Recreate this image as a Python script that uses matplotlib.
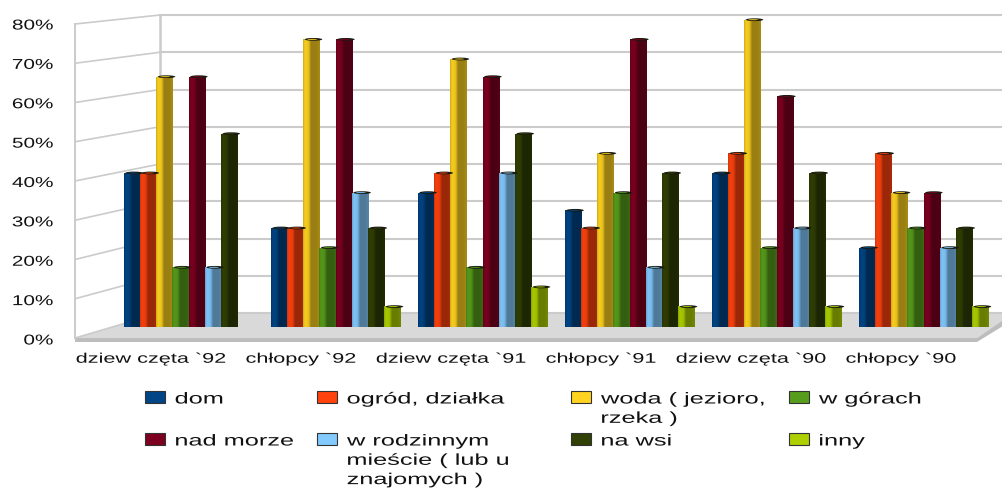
import numpy as np
import matplotlib
matplotlib.use("Agg")
import matplotlib.pyplot as plt
import matplotlib.patheffects as pe
from matplotlib.patches import Ellipse, Polygon, Rectangle
from matplotlib.transforms import Affine2D

# dane (%)
kategorie = ["dziew częta `92", "chłopcy `92", "dziew częta `91",
             "chłopcy `91", "dziew częta `90", "chłopcy `90"]
dom = [41, 27, 36, 31.5, 41, 22]
ogrod = [41, 27, 41, 27, 46, 46]
woda = [65.5, 75, 70, 46, 80, 36]
gory = [17, 22, 17, 36, 22, 27]
morze = [65.5, 75, 65.5, 75, 60.5, 36]
rodzinne = [17, 36, 41, 17, 27, 22]
wies = [51, 27, 51, 41, 41, 27]
inny = [0, 7, 12, 7, 7, 7]

serie = [dom, ogrod, woda, gory, morze, rodzinne, wies, inny]
nazwy = ["dom", "ogród, działka", "woda ( jezioro,\nrzeka )", "w górach",
         "nad morze", "w rodzinnym\nmieście ( lub u\nznajomych )", "na wsi", "inny"]
kolory = ["#004586", "#ff420e", "#ffd320", "#579d1c",
          "#7e0021", "#83caff", "#314004", "#aecf00"]
yticks = [0, 10, 20, 30, 40, 50, 60, 70, 80]

W, H = 1003, 488
plt.rcParams["font.family"] = ["Liberation Sans", "DejaVu Sans"]


class Rozciagnij(pe.AbstractPathEffect):
    # tekst w oryginale jest rozciagniety w poziomie
    def __init__(self, sx, kotwica=0.0):
        super().__init__()
        self.sx = sx
        self.kotwica = kotwica

    def draw_path(self, renderer, gc, tpath, affine, rgbFace=None):
        e = tpath.get_extents()
        x0 = e.x0 + e.width * self.kotwica
        t = Affine2D().translate(-x0, 0).scale(self.sx, 1).translate(x0, 0)
        renderer.draw_path(gc, tpath, t + affine, rgbFace)


def pozycja(x0, y_top, x1, y_bottom):
    return [x0 / W, 1 - y_bottom / H, (x1 - x0) / W, (y_bottom - y_top) / H]


fig = plt.figure(figsize=(W / 100, H / 100), dpi=100, facecolor="white")

# tlo: sciany i podloga w pikselach
tlo = fig.add_axes([0, 0, 1, 1])
tlo.set_xlim(0, W)
tlo.set_ylim(H, 0)
tlo.axis("off")
siatka = "#cbcbcb"
for i in range(9):
    yf = 338 - i * 39.25
    yb = 313 - i * 37.25
    tlo.plot([75, 160], [yf, yb], color=siatka, lw=1.2)
    tlo.plot([160, W], [yb, yb], color=siatka, lw=1.5)
tlo.plot([75, 75], [24, 338], color=siatka, lw=1.4)
tlo.plot([160, 160], [15, 313], color=siatka, lw=1.8)
tlo.add_patch(Polygon([(75, 338), (160, 313), (W, 313), (W, 320), (977, 338)],
                      closed=True, fc="#d9d9d9", ec="none"))
tlo.add_patch(Polygon([(75, 338), (977, 338), (W, 320), (W, 326), (977, 342), (75, 342)],
                      closed=True, fc="#bdbdbd", ec="none"))

# slupki: skala 3.93 px na 1%, zero na y=334.5
ax = fig.add_axes(pozycja(0, 0, W, 334.5), facecolor="none")
podzialka = 147.0
x_sr = 188.8
ax.axis("off")

krok = 16.2 / podzialka
szer = 16.7 / podzialka
baza = (334.5 - 327) / 3.93
profil = np.interp(np.linspace(0, 1, 24),
                   [0, 0.1, 0.32, 0.48, 0.8, 1], [0.82, 0.97, 0.92, 0.6, 0.6, 0.66])
grupy = np.arange(len(kategorie))
for n, (wart, kol) in enumerate(zip(serie, kolory)):
    x = grupy + (n - 3.5) * krok
    v = np.array(wart, dtype=float)
    wys = np.where(v > 0, v - baza, 0)
    bary = ax.bar(x, wys, width=szer, bottom=baza, color=kol, linewidth=0, zorder=3)
    rgb = np.array(matplotlib.colors.to_rgb(kol))
    grad = np.outer(profil, rgb)[None, :, :]
    for r, val in zip(bary, v):
        if val <= 0:
            continue
        x0, w = r.get_x(), r.get_width()
        ax.imshow(grad, extent=[x0, x0 + w, baza, val], aspect="auto",
                  interpolation="bilinear", zorder=3)
        ax.add_patch(Ellipse((x0 + w * 0.62, val + 0.1), w * 1.05, 0.7,
                             fc="#1a1a10", ec="none", zorder=4))
        ax.add_patch(Ellipse((x0 + w * 0.55, val + 0.1), w * 0.6, 0.25,
                             fc=kol, ec="none", zorder=4))
ax.set_xlim(-x_sr / podzialka, (W - x_sr) / podzialka)
ax.set_ylim(0, 334.5 / 3.93)

# opisy osi Y
oy = fig.add_axes(pozycja(53, 24, 75, 339), facecolor="none")
oy.set_ylim(0, 80)
oy.set_xticks([])
oy.set_yticks(yticks)
oy.set_yticklabels([f"{t}%" for t in yticks], fontsize=10.3, color="#111111",
                   path_effects=[Rozciagnij(1.45, 1.0)])
oy.tick_params(axis="y", length=0, pad=0)
for s in oy.spines.values():
    s.set_visible(False)

# opisy kategorii
ox = fig.add_axes(pozycja(151, 340, 901, 342), facecolor="none")
ox.set_xlim(0, 5)
ox.set_yticks([])
ox.set_xticks(range(len(kategorie)))
ox.set_xticklabels(kategorie, fontsize=10, color="#111111",
                   path_effects=[Rozciagnij(1.56, 0.5)])
ox.tick_params(axis="x", length=0, pad=7)
for s in ox.spines.values():
    s.set_visible(False)

# legenda
leg_x = [145, 317, 571, 789]
leg_y = [391, 433]
for n, (nazwa, kol) in enumerate(zip(nazwy, kolory)):
    x = leg_x[n % 4]
    y = leg_y[n // 4]
    tlo.add_patch(Rectangle((x, y), 20, 12, fc=kol, ec="#333333", lw=0.8))
    tlo.text(x + 30, y + 0.5, nazwa, fontsize=11.4, color="#111111", va="top",
             ha="left", linespacing=1.36, path_effects=[Rozciagnij(1.6, 0.0)])

fig.savefig("out.png", dpi=100)
